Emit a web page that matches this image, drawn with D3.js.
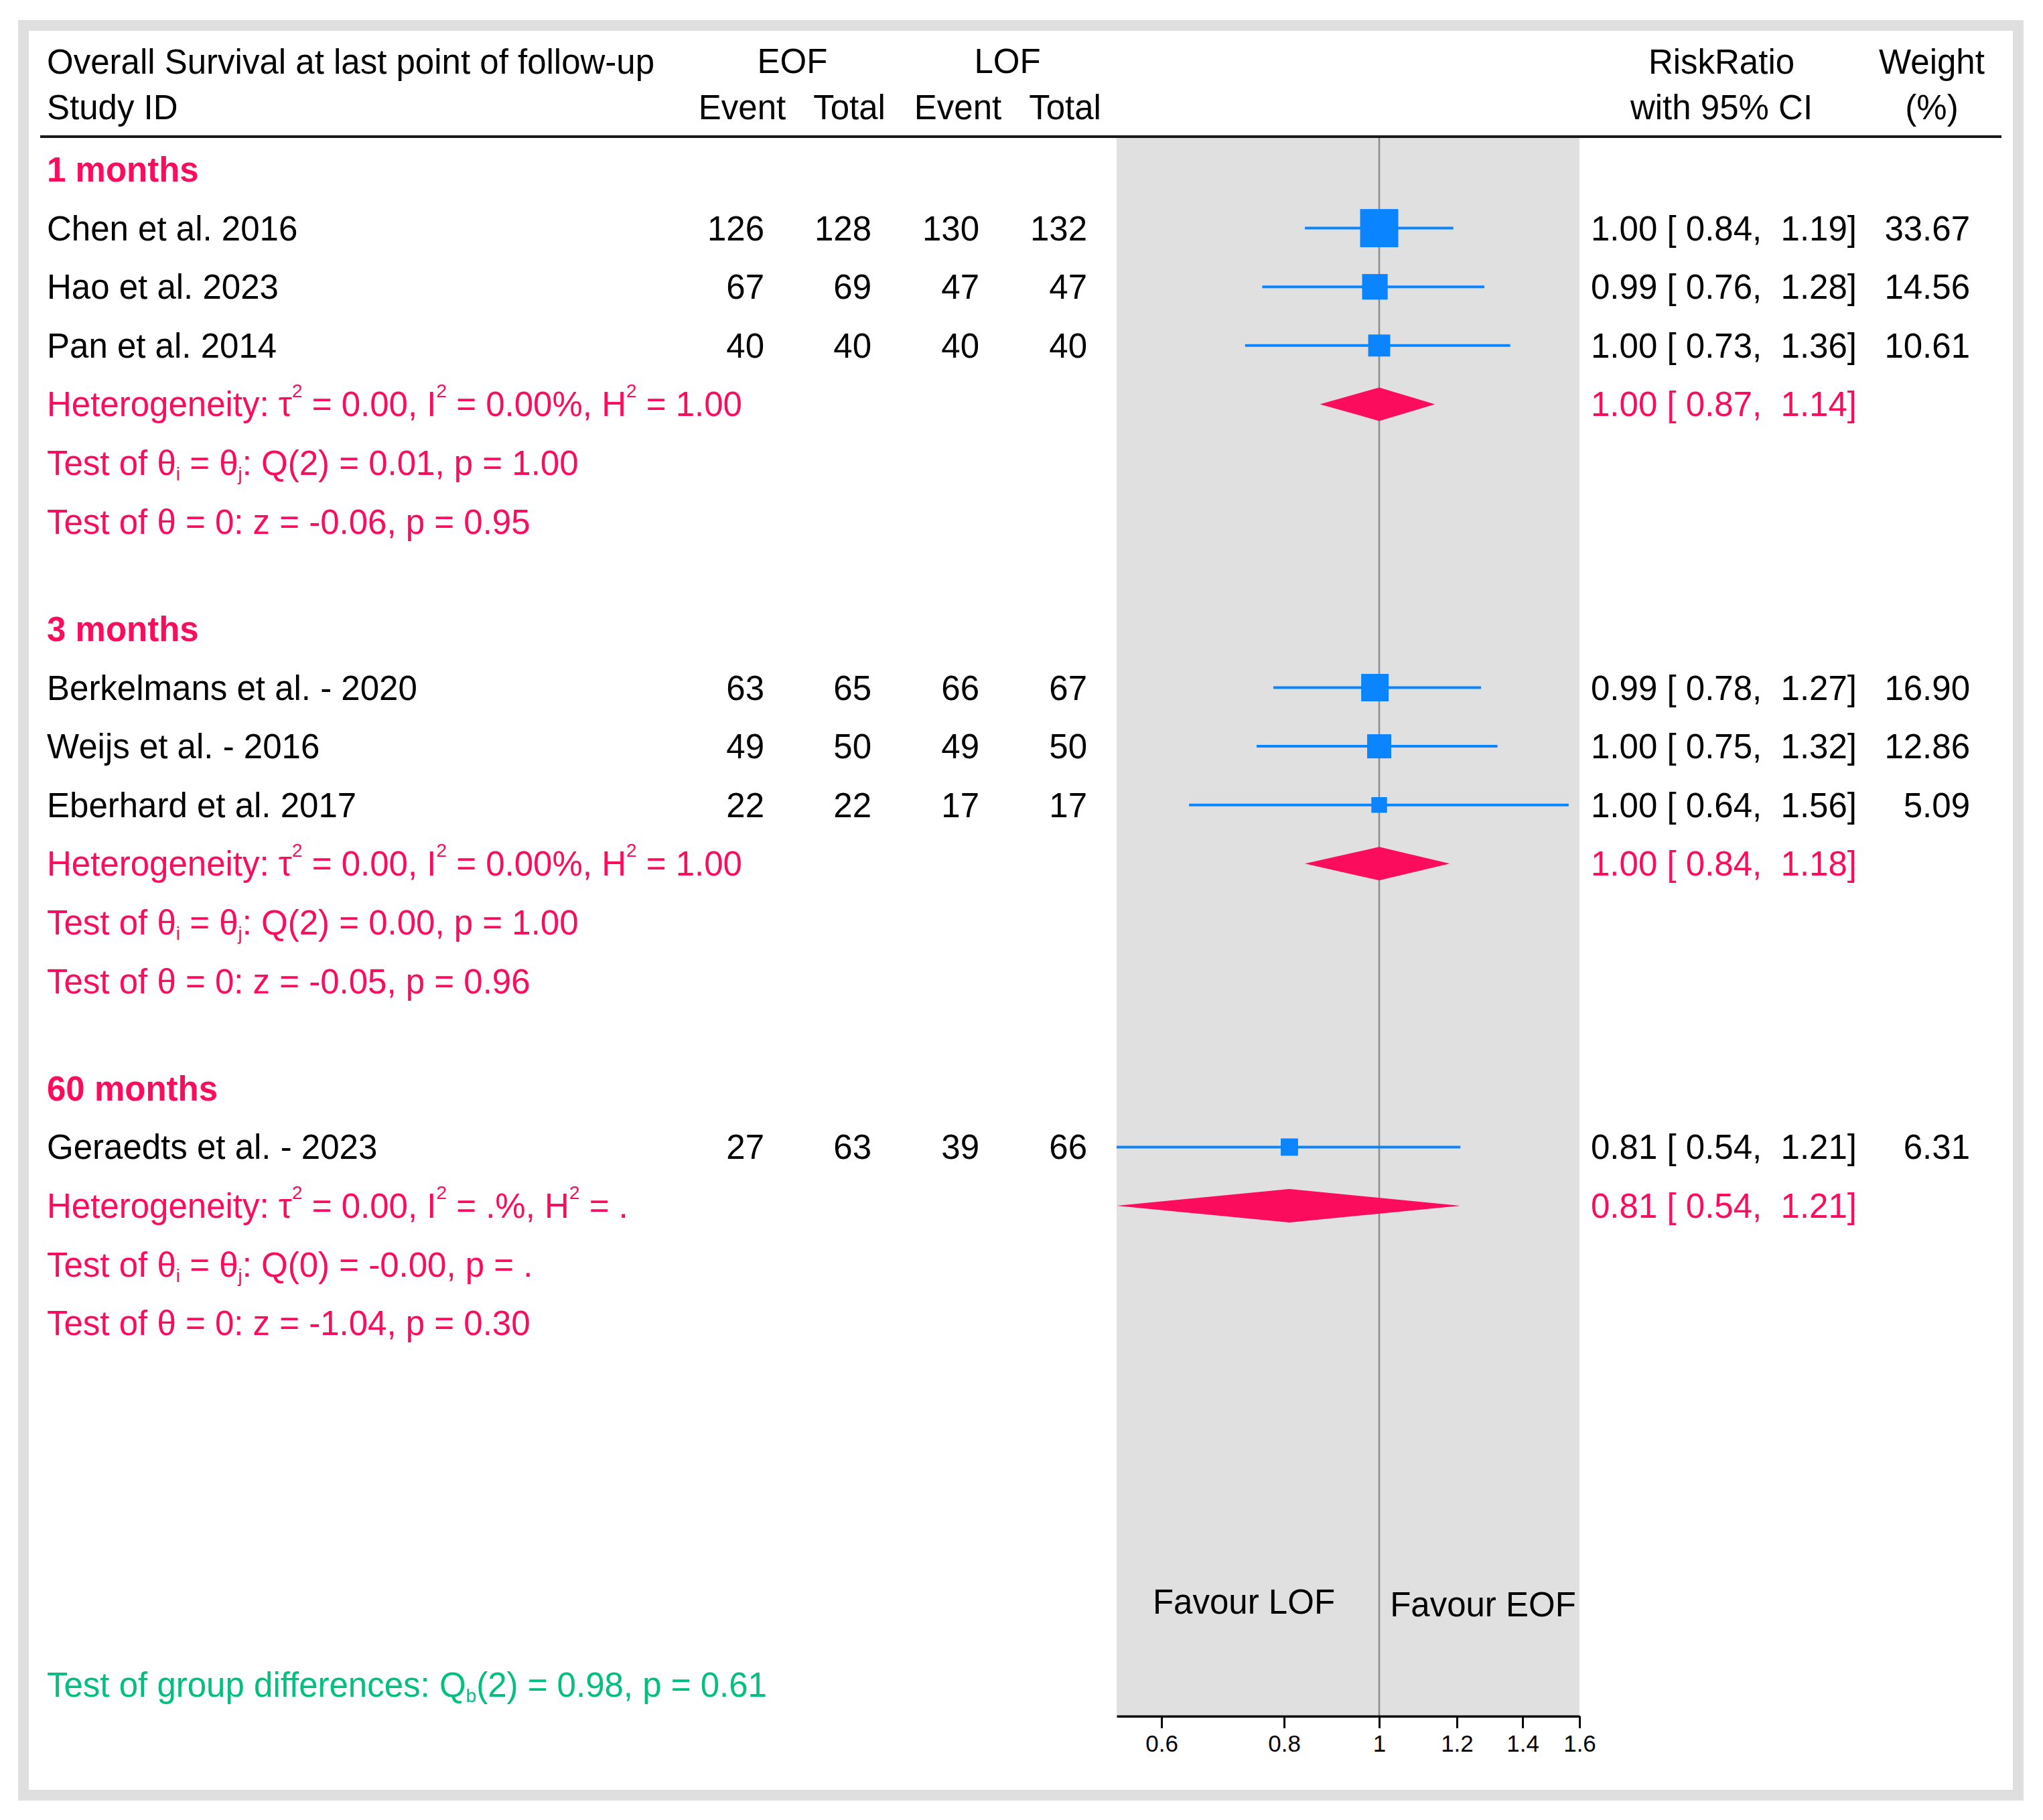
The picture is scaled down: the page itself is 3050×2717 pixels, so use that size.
<!DOCTYPE html>
<html>
<head>
<meta charset="utf-8">
<script src="https://cdn.jsdelivr.net/npm/d3@7"></script>
<style>
  html, body { margin: 0; padding: 0; background: #fff; }
  svg text { font-family: "Liberation Sans", Arial, Helvetica, sans-serif; white-space: pre; }
</style>
</head>
<body>
<div id="chart"></div>
<script>
// ---- Data ----
const groups = ["1 months", "3 months", "60 months"];
const studyNames = [
  "Chen et al. 2016", "Hao et al. 2023", "Pan et al. 2014",
  "Berkelmans et al. - 2020", "Weijs et al. - 2016", "Eberhard et al. 2017",
  "Geraedts et al. - 2023"
];
const studyGroup = [0, 0, 0, 1, 1, 1, 2];
const eofEvent = [126, 67, 40, 63, 49, 22, 27];
const eofTotal = [128, 69, 40, 65, 50, 22, 63];
const lofEvent = [130, 47, 40, 66, 49, 17, 39];
const lofTotal = [132, 47, 40, 67, 50, 17, 66];
const riskRatio = [1.00, 0.99, 1.00, 0.99, 1.00, 1.00, 0.81];
const ciLow = [0.84, 0.76, 0.73, 0.78, 0.75, 0.64, 0.54];
const ciHigh = [1.19, 1.28, 1.36, 1.27, 1.32, 1.56, 1.21];
const weights = [33.67, 14.56, 10.61, 16.90, 12.86, 5.09, 6.31];

// subgroup pooled estimates
const pooledRR = [1.00, 1.00, 0.81];
const pooledLow = [0.87, 0.84, 0.54];
const pooledHigh = [1.14, 1.18, 1.21];

// subgroup statistics (as printed)
const tau2 = ["0.00", "0.00", "0.00"];
const i2 = ["0.00%", "0.00%", ".%"];
const h2 = ["1.00", "1.00", "."];
const qDf = [2, 2, 0];
const qVal = ["0.01", "0.00", "-0.00"];
const qP = ["1.00", "1.00", "."];
const zVal = ["-0.06", "-0.05", "-1.04"];
const zP = ["0.95", "0.96", "0.30"];

const axisTicks = [0.6, 0.8, 1, 1.2, 1.4, 1.6];
const groupTest = "Test of group differences: Q_{b}(2) = 0.98, p = 0.61";

// ---- Layout ----
const W = 3050, H = 2717;
const fontSize = 51;
const pink = "#fc0c5c";
const blue = "#0a84ff";
const green = "#00bf7f";
const panel = { left: 1667, right: 2358, top: 206, bottom: 2562 };

const svg = d3.select("#chart").append("svg")
  .attr("width", W).attr("height", H)
  .attr("viewBox", `0 0 ${W} ${H}`);

// outer frame
svg.append("rect")
  .attr("x", 35).attr("y", 38)
  .attr("width", 2978).attr("height", 2642)
  .attr("fill", "#fff")
  .attr("stroke", "#dfdfdf")
  .attr("stroke-width", 16);

// Scales
const x = d3.scaleLog().domain([0.54, 1.6]).range([panel.left, panel.right]);
const row = d3.scaleLinear().domain([0, 1]).range([253, 340.6]); // row position -> center y
const groupGap = 7.83;
const side = d3.scaleSqrt().domain([0, d3.max(weights)]).range([0, 55]);

// plot panel background
svg.append("rect")
  .attr("x", panel.left).attr("y", panel.top)
  .attr("width", panel.right - panel.left)
  .attr("height", panel.bottom - panel.top)
  .attr("fill", "#e0e0e0");

// reference line at 1
svg.append("line")
  .attr("x1", x(1)).attr("x2", x(1))
  .attr("y1", panel.top).attr("y2", panel.bottom)
  .attr("stroke", "#8c8c8c")
  .attr("stroke-width", 2.5);

// header rule
svg.append("line")
  .attr("x1", 60).attr("x2", 2988)
  .attr("y1", 204).attr("y2", 204)
  .attr("stroke", "#1a1a1a")
  .attr("stroke-width", 4);

// text helper: supports ^{sup} and _{sub}
function richText(x0, y0, str, fill, anchor = "start", weight = "normal") {
  const t = svg.append("text")
    .attr("x", x0).attr("y", y0)
    .attr("fill", fill)
    .attr("text-anchor", anchor)
    .style("font-size", fontSize + "px")
    .style("font-weight", weight);
  const parts = str.split(/(\^\{[^}]*\}|_\{[^}]*\})/).filter((p) => p !== "");
  let shift = 0;
  parts.forEach((p) => {
    let target = 0, size = fontSize, txt = p;
    if (p.startsWith("^{")) { target = -28; size = 28; txt = p.slice(2, -1); }
    else if (p.startsWith("_{")) { target = 8; size = 28; txt = p.slice(2, -1); }
    t.append("tspan")
      .attr("dy", target - shift)
      .style("font-size", size + "px")
      .text(txt);
    shift = target;
  });
  return t;
}

const base = (pos) => row(pos) + 18;

// ---- Header ----
richText(70, 110, "Overall Survival at last point of follow-up", "#000");
richText(70, 178, "Study ID", "#000");
richText(1183, 109, "EOF", "#000", "middle");
richText(1504, 109, "LOF", "#000", "middle");
["Event", "Total", "Event", "Total"].forEach((h, i) => {
  richText([1108, 1268, 1430, 1590][i], 178, h, "#000", "middle");
});
richText(2570, 110, "RiskRatio", "#000", "middle");
richText(2570, 178, "with 95% CI", "#000", "middle");
richText(2884, 110, "Weight", "#000", "middle");
richText(2884, 178, "(%)", "#000", "middle");

const numRight = [1141, 1301, 1462, 1623];
const ciLeft = 2375;
const weightRight = 2941;
const fmt = d3.format(".2f");

// ---- Groups ----
groups.forEach((gName, g) => {
  const g0 = g * groupGap;
  richText(70, base(g0), gName, pink, "start", "bold");

  const idx = d3.range(studyNames.length).filter((i) => studyGroup[i] === g);
  idx.forEach((i, k) => {
    const pos = g0 + 1 + k;
    const cy = row(pos);
    richText(70, base(pos), studyNames[i], "#000");
    [eofEvent[i], eofTotal[i], lofEvent[i], lofTotal[i]].forEach((v, c) => {
      richText(numRight[c], base(pos), String(v), "#000", "end");
    });
    // CI line
    svg.append("line")
      .attr("x1", x(ciLow[i])).attr("x2", x(ciHigh[i]))
      .attr("y1", cy).attr("y2", cy)
      .attr("stroke", blue).attr("stroke-width", 4);
    // weighted square
    const s = side(weights[i]);
    svg.append("rect")
      .attr("x", x(riskRatio[i]) - s / 2).attr("y", cy - s / 2)
      .attr("width", s).attr("height", s)
      .attr("fill", blue)
      .attr("stroke", blue).attr("stroke-width", 2);
    richText(ciLeft, base(pos),
      `${fmt(riskRatio[i])} [ ${fmt(ciLow[i])},  ${fmt(ciHigh[i])}]`, "#000");
    richText(weightRight, base(pos), fmt(weights[i]), "#000", "end");
  });

  const hp = g0 + 1 + idx.length;
  const hy = row(hp);
  // pooled diamond
  svg.append("polygon")
    .attr("points", [
      [x(pooledLow[g]), hy],
      [x(pooledRR[g]), hy - 25],
      [x(pooledHigh[g]), hy],
      [x(pooledRR[g]), hy + 25]
    ].map((p) => p.join(",")).join(" "))
    .attr("fill", pink);
  richText(ciLeft, base(hp),
    `${fmt(pooledRR[g])} [ ${fmt(pooledLow[g])},  ${fmt(pooledHigh[g])}]`, pink);

  richText(70, base(hp),
    `Heterogeneity: τ^{2} = ${tau2[g]}, I^{2} = ${i2[g]}, H^{2} = ${h2[g]}`, pink);
  richText(70, base(hp + 1),
    `Test of θ_{i} = θ_{j}: Q(${qDf[g]}) = ${qVal[g]}, p = ${qP[g]}`, pink);
  richText(70, base(hp + 2),
    `Test of θ = 0: z = ${zVal[g]}, p = ${zP[g]}`, pink);
});

// favour labels
richText(1857, 2409, "Favour LOF", "#000", "middle");
richText(2214, 2413, "Favour EOF", "#000", "middle");

// group differences
richText(70, 2533, groupTest, green);

// ---- Axis ----
const axis = svg.append("g")
  .attr("transform", `translate(0,${panel.bottom})`)
  .call(d3.axisBottom(x)
    .tickValues(axisTicks)
    .tickFormat(d3.format("~g"))
    .tickSize(18)
    .tickSizeOuter(0)
    .tickPadding(10));
axis.attr("font-family", null).attr("font-size", null);
axis.select(".domain").attr("stroke", "#000").attr("stroke-width", 3.5);
axis.selectAll(".tick line").attr("stroke", "#000").attr("stroke-width", 3);
axis.selectAll(".tick text").attr("fill", "#000").style("font-size", "35px");
</script>
</body>
</html>
